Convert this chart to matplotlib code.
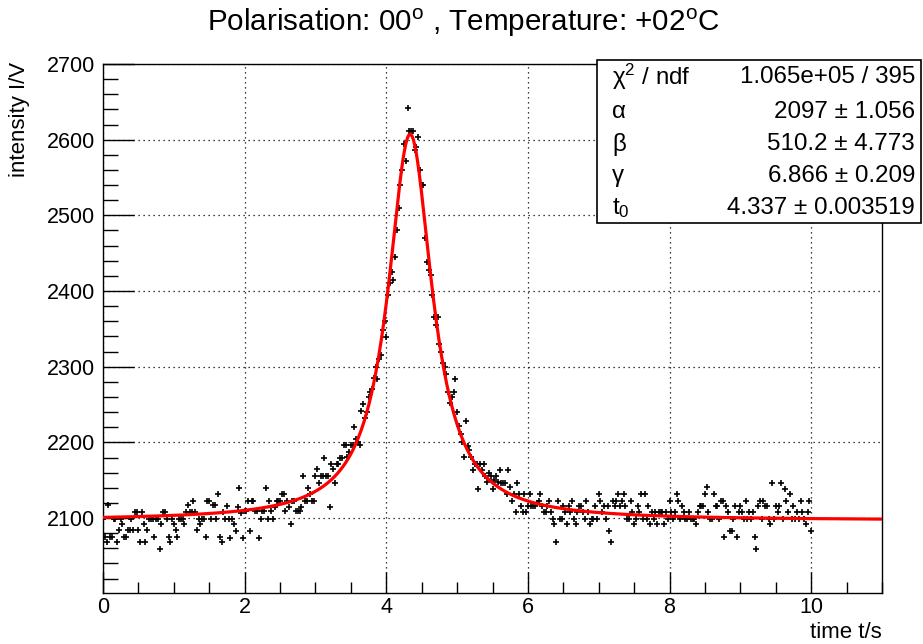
import numpy as np
import matplotlib
matplotlib.use("Agg")
import matplotlib.pyplot as plt
from matplotlib.patches import Rectangle
from matplotlib.ticker import MultipleLocator

plt.rcParams['font.family'] = ['Liberation Sans', 'DejaVu Sans']
plt.rcParams['mathtext.fontset'] = 'custom'
plt.rcParams['mathtext.rm'] = 'Liberation Sans'
plt.rcParams['mathtext.it'] = 'Liberation Sans:italic'

# ---- data ----
dt = 0.025
intensity = [
    2099, 2075, 2068, 2117, 2075, 2075, 2099, 2099, 2068, 2084,
    2099, 2092, 2075, 2075, 2084, 2084, 2099, 2084, 2108, 2108,
    2084, 2068, 2108, 2092, 2068, 2084, 2099, 2099, 2099, 2075,
    2099, 2099, 2059, 2092, 2108, 2108, 2099, 2075, 2068, 2099,
    2092, 2084, 2075, 2099, 2099, 2099, 2092, 2108, 2117, 2108,
    2108, 2123, 2108, 2084, 2099, 2092, 2099, 2099, 2075, 2123,
    2123, 2099, 2117, 2117, 2099, 2132, 2075, 2068, 2108, 2099,
    2116, 2099, 2074, 2099, 2092, 2083, 2115, 2140, 2107, 2074,
    2110, 2110, 2122, 2083, 2122, 2122, 2110, 2110, 2074, 2099,
    2110, 2110, 2140, 2099, 2122, 2110, 2099, 2115, 2122, 2122,
    2122, 2132, 2132, 2110, 2122, 2115, 2092, 2122, 2122, 2110,
    2110, 2110, 2115, 2156, 2122, 2122, 2140, 2132, 2122, 2122,
    2156, 2165, 2147, 2156, 2156, 2180, 2156, 2156, 2115, 2171,
    2165, 2147, 2171, 2171, 2180, 2180, 2196, 2196, 2181, 2187,
    2196, 2196, 2220, 2205, 2200, 2196, 2242, 2251, 2232, 2240,
    2260, 2267, 2270, 2285, 2300, 2284, 2310, 2315, 2348, 2360,
    2339, 2395, 2410, 2425, 2415, 2445, 2480, 2510, 2540, 2560,
    2594, 2572, 2642, 2612, 2612, 2612, 2587, 2590, 2604, 2560,
    2540, 2540, 2470, 2438, 2428, 2421, 2395, 2366, 2355, 2366,
    2330, 2320, 2305, 2300, 2291, 2267, 2252, 2260, 2267, 2284,
    2240, 2222, 2211, 2200, 2181, 2228, 2195, 2190, 2181, 2163,
    2172, 2172, 2139, 2172, 2163, 2172, 2156, 2148, 2160, 2156,
    2139, 2150, 2156, 2148, 2163, 2147, 2147, 2147, 2132, 2163,
    2141, 2123, 2132, 2108, 2147, 2132, 2116, 2108, 2132, 2108,
    2116, 2132, 2116, 2116, 2116, 2120, 2123, 2132, 2116, 2108,
    2108, 2116, 2123, 2108, 2099, 2092, 2068, 2123, 2099, 2099,
    2116, 2108, 2092, 2116, 2108, 2123, 2099, 2092, 2108, 2116,
    2116, 2108, 2099, 2123, 2108, 2092, 2099, 2099, 2116, 2099,
    2132, 2123, 2108, 2116, 2099, 2116, 2083, 2068, 2123, 2116,
    2123, 2132, 2116, 2123, 2132, 2116, 2099, 2099, 2123, 2108,
    2092, 2099, 2116, 2108, 2132, 2099, 2132, 2099, 2116, 2092,
    2108, 2099, 2108, 2092, 2108, 2108, 2108, 2092, 2108, 2099,
    2123, 2108, 2099, 2108, 2132, 2123, 2099, 2116, 2108, 2099,
    2099, 2108, 2099, 2099, 2099, 2092, 2108, 2116, 2116, 2116,
    2132, 2141, 2108, 2099, 2099, 2132, 2116, 2116, 2099, 2123,
    2123, 2075, 2116, 2108, 2083, 2083, 2099, 2116, 2075, 2108,
    2116, 2108, 2099, 2123, 2099, 2108, 2099, 2108, 2075, 2059,
    2116, 2123, 2099, 2123, 2116, 2116, 2099, 2092, 2147, 2099,
    2116, 2108, 2116, 2147, 2099, 2138, 2123, 2108, 2132, 2099,
    2116, 2099, 2108, 2099, 2123, 2108, 2099, 2092, 2108, 2123,
    2083,
]
time = np.arange(len(intensity)) * dt

# fit parameters (from the stats box)
alpha = 2097.0
beta = 510.2
gamma = 6.866
t0 = 4.337

stats_labels = [r'χ$^{2}$ / ndf', 'α', 'β', 'γ', r'$\mathrm{t}_{0}$']
stats_values = ['1.065e+05 / 395', '2097 ± 1.056', '510.2 ± 4.773',
                '6.866 ± 0.209', '4.337 ± 0.003519']

title = r'Polarisation: 00$^{\mathrm{o}}$ , Temperature: +02$^{\mathrm{o}}$C'

# ---- figure ----
W, H = 923, 644
fig = plt.figure(figsize=(W / 100, H / 100), dpi=100)
ax = fig.add_axes([103 / W, 1 - 593 / H, (882 - 103) / W, (593 - 64) / H])

ax.plot(time, intensity, linestyle='none', marker='+', color='black',
        markersize=5, markeredgewidth=1.2, zorder=2)

tf = np.linspace(0, 11, 1200)
ax.plot(tf, alpha + beta / (1 + gamma * (tf - t0) ** 2), color='#ff0000',
        lw=2.3, zorder=3)

ax.set_xlim(0, 11)
ax.set_ylim(2001, 2700)
ax.xaxis.set_major_locator(MultipleLocator(2))
ax.xaxis.set_minor_locator(MultipleLocator(0.5))
ax.yaxis.set_major_locator(MultipleLocator(100))
ax.yaxis.set_minor_locator(MultipleLocator(20))
ax.tick_params(which='both', direction='in', top=False, right=False,
               labelsize=15.5, width=1)
ax.tick_params(axis='x', which='major', length=15, pad=3)
ax.tick_params(axis='x', which='minor', length=8)
ax.tick_params(axis='y', which='major', length=22, pad=6)
ax.tick_params(axis='y', which='minor', length=11)
ax.grid(True, which='major', linestyle=(0, (1, 3)), color='black', lw=0.9)
for s in ax.spines.values():
    s.set_linewidth(1.0)

fig.text(463 / W, 1 - 23 / H, title, ha='center', va='center', fontsize=21.3)
fig.text(882 / W, 1 - 632 / H, 'time t/s', ha='right', va='center', fontsize=16)
fig.text(20 / W, 1 - 62 / H, 'intensity I/V', ha='center', va='top',
         rotation=90, fontsize=16)

# stats box
bx0, bx1, by0, by1 = 597, 921, 60, 223
fig.patches.append(Rectangle((bx0 / W, 1 - by1 / H), (bx1 - bx0) / W,
                             (by1 - by0) / H, transform=fig.transFigure,
                             facecolor='white', edgecolor='black', lw=1.2,
                             zorder=5))
rows_y = [77, 112, 144, 176, 208]
for lab, val, yy in zip(stats_labels, stats_values, rows_y):
    fig.text(612 / W, 1 - yy / H, lab, ha='left', va='center', fontsize=17.4,
             zorder=6)
    fig.text(915 / W, 1 - yy / H, val, ha='right', va='center', fontsize=17.4,
             zorder=6)

fig.savefig('out.png', dpi=100)
